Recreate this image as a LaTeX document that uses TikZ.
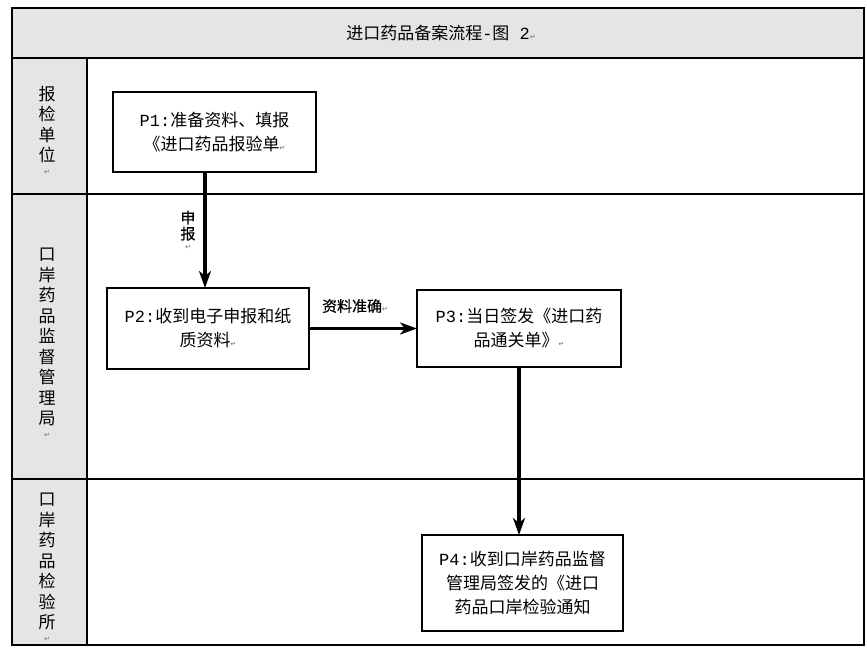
\documentclass[tikz,border=0pt]{standalone}
\usepackage{fontspec}
\newfontfamily\cjk{Noto Sans CJK SC}
\newfontfamily\cjkheavy[FakeBold=0.5]{Noto Sans CJK SC}
\newfontfamily\mono{Liberation Mono}
\newfontfamily\symb{DejaVu Sans}
\usetikzlibrary{arrows.meta}
\newcommand{\retmark}{{\symb\fontsize{7}{7}\selectfont\textcolor{black!60}{↵}}}

\begin{document}
\begin{tikzpicture}[x=1pt, y=-1pt,
	lane/.style = {draw=black, line width=1.3pt},
	lanename/.style = {anchor=north, inner sep=0pt, align=center, font=\cjk\fontsize{17}{20.5}\selectfont},
	proc/.style = {draw=black, line width=2.4pt, inner sep=0pt, outer sep=0pt, align=center, font=\cjk\fontsize{17}{24}\selectfont},
	flow/.style = {line width=3.6pt, -{Stealth[length=17pt, width=12pt, inset=5pt]}},
	flowlabel/.style = {inner sep=0pt, align=center, font=\cjkheavy\fontsize{15}{16}\selectfont}]
	\useasboundingbox (0,0) rectangle (867,651);
	% swimlane frame
	\fill[gray!20] (12,8) rectangle (864,58);
	\fill[gray!20] (12,58) rectangle (87,645);
	\draw[lane] (12,8) rectangle (864,645);
	\draw[lane] (12,58) -- (864,58);
	\draw[lane] (12,194) -- (864,194);
	\draw[lane] (12,479) -- (864,479);
	\draw[lane] (87,58) -- (87,645);
	\node (title) at (441,33)	[inner sep=0pt, font=\cjk\fontsize{17}{20}\selectfont]	{进口药品备案流程{\mono-}图{\mono\ 2}\retmark};
	\node (L1) at (47,86)	[lanename]	{报\\检\\单\\位\\[-8pt]\retmark};
	\node (L2) at (47,248)	[lanename]	{口\\岸\\药\\品\\监\\督\\管\\理\\局\\[-8pt]\retmark};
	\node (L3) at (47,493)	[lanename]	{口\\岸\\药\\品\\检\\验\\所\\[-8pt]\retmark};
	% process boxes
	\node (P1) at (214.5,132)	[proc, minimum width=203pt, minimum height=80pt]	{{\mono P1:}准备资料、填报\\《进口药品报验单\retmark};
	\node (P2) at (208,328.5)	[proc, minimum width=202pt, minimum height=81pt]	{{\mono P2:}收到电子申报和纸\\质资料\retmark};
	\node (P3) at (519,328.5)	[proc, minimum width=204pt, minimum height=77pt]	{{\mono P3:}当日签发《进口药\\品通关单》\retmark};
	\node (P4) at (522.5,583)	[proc, minimum width=201pt, minimum height=96pt]	{{\mono P4:}收到口岸药品监督\\管理局签发的《进口\\药品口岸检验通知};
	% flows
	\draw[flow] ([xshift=-3pt]P2.north |- P1.south) -- ([xshift=-3pt]P2.north);
	\draw[flow] (P2.east) -- (P3.west);
	\draw[flow] (P3.south) -- (P3.south |- P4.north);
	\node (F1) at (188,230)	[flowlabel]	{申\\报\\[-6pt]\retmark};
	\node (F2) at (355,306)	[flowlabel]	{资料准确\retmark};
\end{tikzpicture}
\end{document}
